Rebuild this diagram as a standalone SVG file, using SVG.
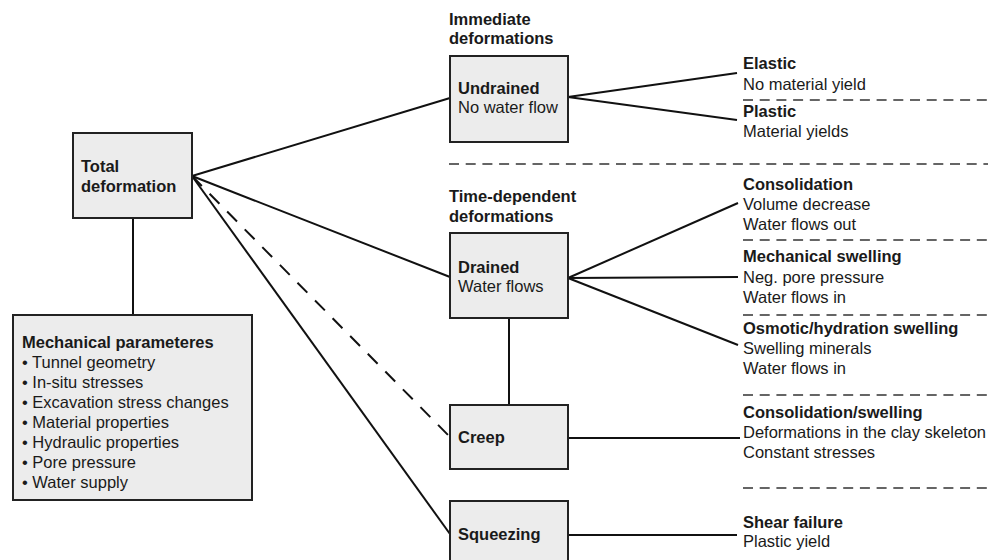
<svg xmlns="http://www.w3.org/2000/svg" width="988" height="560" viewBox="0 0 988 560">
<style>
.box{fill:#ececec;stroke:#222;stroke-width:2}
.ln{stroke:#111;stroke-width:2;fill:none}
.dl{stroke:#333;stroke-width:1.3;stroke-dasharray:10 6.7;fill:none}
text{font-family:"Liberation Sans",Arial,sans-serif;font-size:16.5px;fill:#1a1a1a}
.b{font-weight:bold}
</style>
<rect width="988" height="560" fill="#fff"/>
<g id="connectors">
<line class="ln" x1="133" y1="218" x2="133" y2="315"/>
<line class="ln" x1="192" y1="176" x2="450" y2="98"/>
<line class="ln" x1="192" y1="176" x2="450" y2="277"/>
<line class="ln" x1="192" y1="176" x2="450" y2="437" style="stroke-dasharray:14 11"/>
<line class="ln" x1="192" y1="176" x2="450" y2="534"/>
<line class="ln" x1="568" y1="97" x2="737" y2="73"/>
<line class="ln" x1="568" y1="97" x2="737" y2="120"/>
<line class="ln" x1="568" y1="278" x2="738" y2="203"/>
<line class="ln" x1="568" y1="278" x2="738" y2="277"/>
<line class="ln" x1="568" y1="278" x2="738" y2="345"/>
<line class="ln" x1="509" y1="318" x2="509" y2="405"/>
<line class="ln" x1="568" y1="438" x2="740" y2="438"/>
<line class="ln" x1="568" y1="535" x2="737" y2="535"/>
</g>
<g id="separators">
<line class="dl" x1="743" y1="100" x2="988" y2="100"/>
<line class="dl" x1="449" y1="164" x2="988" y2="164"/>
<line class="dl" x1="743" y1="240" x2="988" y2="240"/>
<line class="dl" x1="743" y1="315" x2="988" y2="315"/>
<line class="dl" x1="743" y1="395" x2="988" y2="395"/>
<line class="dl" x1="743" y1="488" x2="988" y2="488"/>
</g>
<g id="total">
<rect class="box" x="73" y="133" width="119" height="85"/>
<text class="b" x="81" y="172">Total</text>
<text class="b" x="81" y="192">deformation</text>
</g>
<g id="mechanical">
<rect class="box" x="13" y="315" width="239" height="185"/>
<text class="b" x="22" y="348">Mechanical parameteres</text>
<text x="22" y="368">• Tunnel geometry</text>
<text x="22" y="388">• In-situ stresses</text>
<text x="22" y="408">• Excavation stress changes</text>
<text x="22" y="428">• Material properties</text>
<text x="22" y="448">• Hydraulic properties</text>
<text x="22" y="468">• Pore pressure</text>
<text x="22" y="488">• Water supply</text>
</g>
<g id="immediate-label">
<text class="b" x="449" y="25">Immediate</text>
<text class="b" x="449" y="44">deformations</text>
</g>
<g id="undrained">
<rect class="box" x="450" y="56" width="118" height="86"/>
<text class="b" x="458" y="94">Undrained</text>
<text x="458" y="113">No water flow</text>
</g>
<g id="time-label">
<text class="b" x="449" y="202">Time-dependent</text>
<text class="b" x="449" y="222">deformations</text>
</g>
<g id="drained">
<rect class="box" x="450" y="233" width="118" height="85"/>
<text class="b" x="458" y="273">Drained</text>
<text x="458" y="292">Water flows</text>
</g>
<g id="creep">
<rect class="box" x="450" y="405" width="118" height="64"/>
<text class="b" x="458" y="443">Creep</text>
</g>
<g id="squeezing">
<rect class="box" x="450" y="501" width="118" height="60"/>
<text class="b" x="458" y="540">Squeezing</text>
</g>
<g id="elastic">
<text class="b" x="743" y="69">Elastic</text>
<text x="743" y="90">No material yield</text>
</g>
<g id="plastic">
<text class="b" x="743" y="117">Plastic</text>
<text x="743" y="137">Material yields</text>
</g>
<g id="consolidation">
<text class="b" x="743" y="190">Consolidation</text>
<text x="743" y="210">Volume decrease</text>
<text x="743" y="230">Water flows out</text>
</g>
<g id="mech-swelling">
<text class="b" x="743" y="262">Mechanical swelling</text>
<text x="743" y="283">Neg. pore pressure</text>
<text x="743" y="303">Water flows in</text>
</g>
<g id="osmotic">
<text class="b" x="743" y="334">Osmotic/hydration swelling</text>
<text x="743" y="354">Swelling minerals</text>
<text x="743" y="374">Water flows in</text>
</g>
<g id="cons-swelling">
<text class="b" x="743" y="418">Consolidation/swelling</text>
<text x="743" y="438">Deformations in the clay skeleton</text>
<text x="743" y="458">Constant stresses</text>
</g>
<g id="shear">
<text class="b" x="743" y="528">Shear failure</text>
<text x="743" y="547">Plastic yield</text>
</g>
</svg>
